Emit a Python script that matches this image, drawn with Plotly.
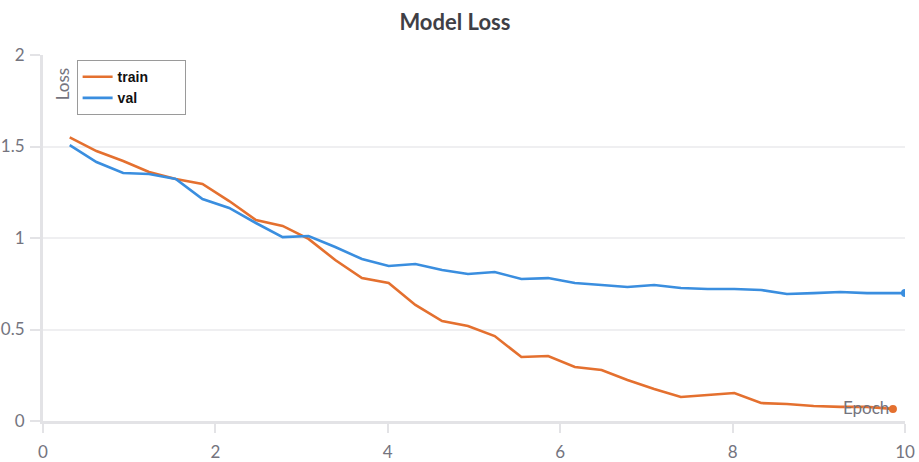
import plotly.graph_objects as go

train_epoch = [0.31, 0.62, 0.93, 1.23, 1.54, 1.85, 2.16, 2.47, 2.78, 3.08, 3.39, 3.70, 4.01, 4.32,
               4.63, 4.93, 5.24, 5.55, 5.86, 6.17, 6.48, 6.78, 7.09, 7.40, 7.71, 8.02, 8.33, 8.63,
               8.94, 9.25, 9.56, 9.86]
train_loss = [1.55, 1.475, 1.421, 1.361, 1.322, 1.295, 1.202, 1.098, 1.066, 0.995, 0.88, 0.781,
              0.754, 0.634, 0.546, 0.519, 0.464, 0.35, 0.355, 0.295, 0.279, 0.224, 0.175, 0.131,
              0.142, 0.153, 0.098, 0.093, 0.082, 0.077, 0.077, 0.066]

val_epoch = [0.31, 0.62, 0.93, 1.23, 1.54, 1.85, 2.16, 2.47, 2.78, 3.08, 3.39, 3.70, 4.01, 4.32,
             4.63, 4.93, 5.24, 5.55, 5.86, 6.17, 6.48, 6.78, 7.09, 7.40, 7.71, 8.02, 8.33, 8.63,
             8.94, 9.25, 9.56, 10.0]
val_loss = [1.508, 1.415, 1.355, 1.35, 1.322, 1.213, 1.164, 1.082, 1.005, 1.011, 0.951, 0.885,
            0.847, 0.858, 0.825, 0.803, 0.814, 0.776, 0.781, 0.754, 0.743, 0.732, 0.743, 0.727,
            0.721, 0.721, 0.716, 0.694, 0.699, 0.705, 0.699, 0.699]

series_names = ["train", "val"]

x_ticks = [0, 2, 4, 6, 8, 10]
y_ticks = [0, 0.5, 1, 1.5, 2]
y_tick_text = ["0", "0.5", "1", "1.5", "2"]

ORANGE = "#e4702f"
BLUE = "#3a8edf"
GRAY = "#74747e"
AXIS = "#e3e3e6"

NBSP = "\u00a0"
legend_pad = [NBSP * 8, NBSP * 2]

fig = go.Figure()
series = [(train_epoch, train_loss, ORANGE), (val_epoch, val_loss, BLUE)]
for name, pad, (xs, ys, col) in zip(series_names, legend_pad, series):
    fig.add_trace(go.Scatter(x=xs, y=ys, name=name + pad, mode="lines",
                             line=dict(color=col, width=2.6)))
for name, (xs, ys, col) in zip(series_names, series):
    fig.add_trace(go.Scatter(x=xs[-1:], y=ys[-1:], name=name, mode="markers",
                             marker=dict(size=8, color=col), showlegend=False))

fig.update_layout(
    width=919, height=462,
    margin=dict(l=43, r=14, t=55, b=41),
    paper_bgcolor="white", plot_bgcolor="white",
    title=dict(text="Model Loss", x=0.495, xanchor="center", y=0.952, yanchor="middle",
               yref="container",
               font=dict(family="Lato", size=22, color="#3f3f46", weight="bold")),
    showlegend=True,
    legend=dict(x=0.039, y=0.986, xanchor="left", yanchor="top",
                bgcolor="white", bordercolor="#9a9a9a", borderwidth=1,
                font=dict(family="Liberation Sans", size=14, color="#111111", weight="bold"),
                itemwidth=30, tracegroupgap=0),
    xaxis=dict(range=[0, 10], tickvals=x_ticks, showgrid=False, zeroline=False,
               automargin=False,
               showline=True, linecolor=AXIS, linewidth=3,
               ticks="outside", ticklen=9, tickwidth=2, tickcolor=AXIS,
               ticklabelstandoff=5,
               tickfont=dict(family="Lato", size=17, color=GRAY)),
    yaxis=dict(range=[0, 2], tickvals=y_ticks, ticktext=y_tick_text, showgrid=True,
               automargin=False,
               gridcolor="#efeff1", gridwidth=1.5, zeroline=False,
               showline=True, linecolor=AXIS, linewidth=3,
               ticks="outside", ticklen=10, tickwidth=2, tickcolor=AXIS,
               ticklabelstandoff=2,
               tickfont=dict(family="Lato", size=17, color=GRAY)),
    annotations=[
        dict(text="Loss", xref="paper", yref="paper", x=0.022, y=0.92, textangle=-90,
             showarrow=False, xanchor="center", yanchor="middle",
             font=dict(family="Lato", size=17, color=GRAY)),
        dict(text="Epoch", xref="paper", yref="paper", x=0.955, y=0.038,
             showarrow=False, xanchor="center", yanchor="middle",
             font=dict(family="Lato", size=17, color=GRAY)),
    ],
)

fig.write_html("out.html", config={"displayModeBar": False},
               post_script="document.body.style.margin='0';")
